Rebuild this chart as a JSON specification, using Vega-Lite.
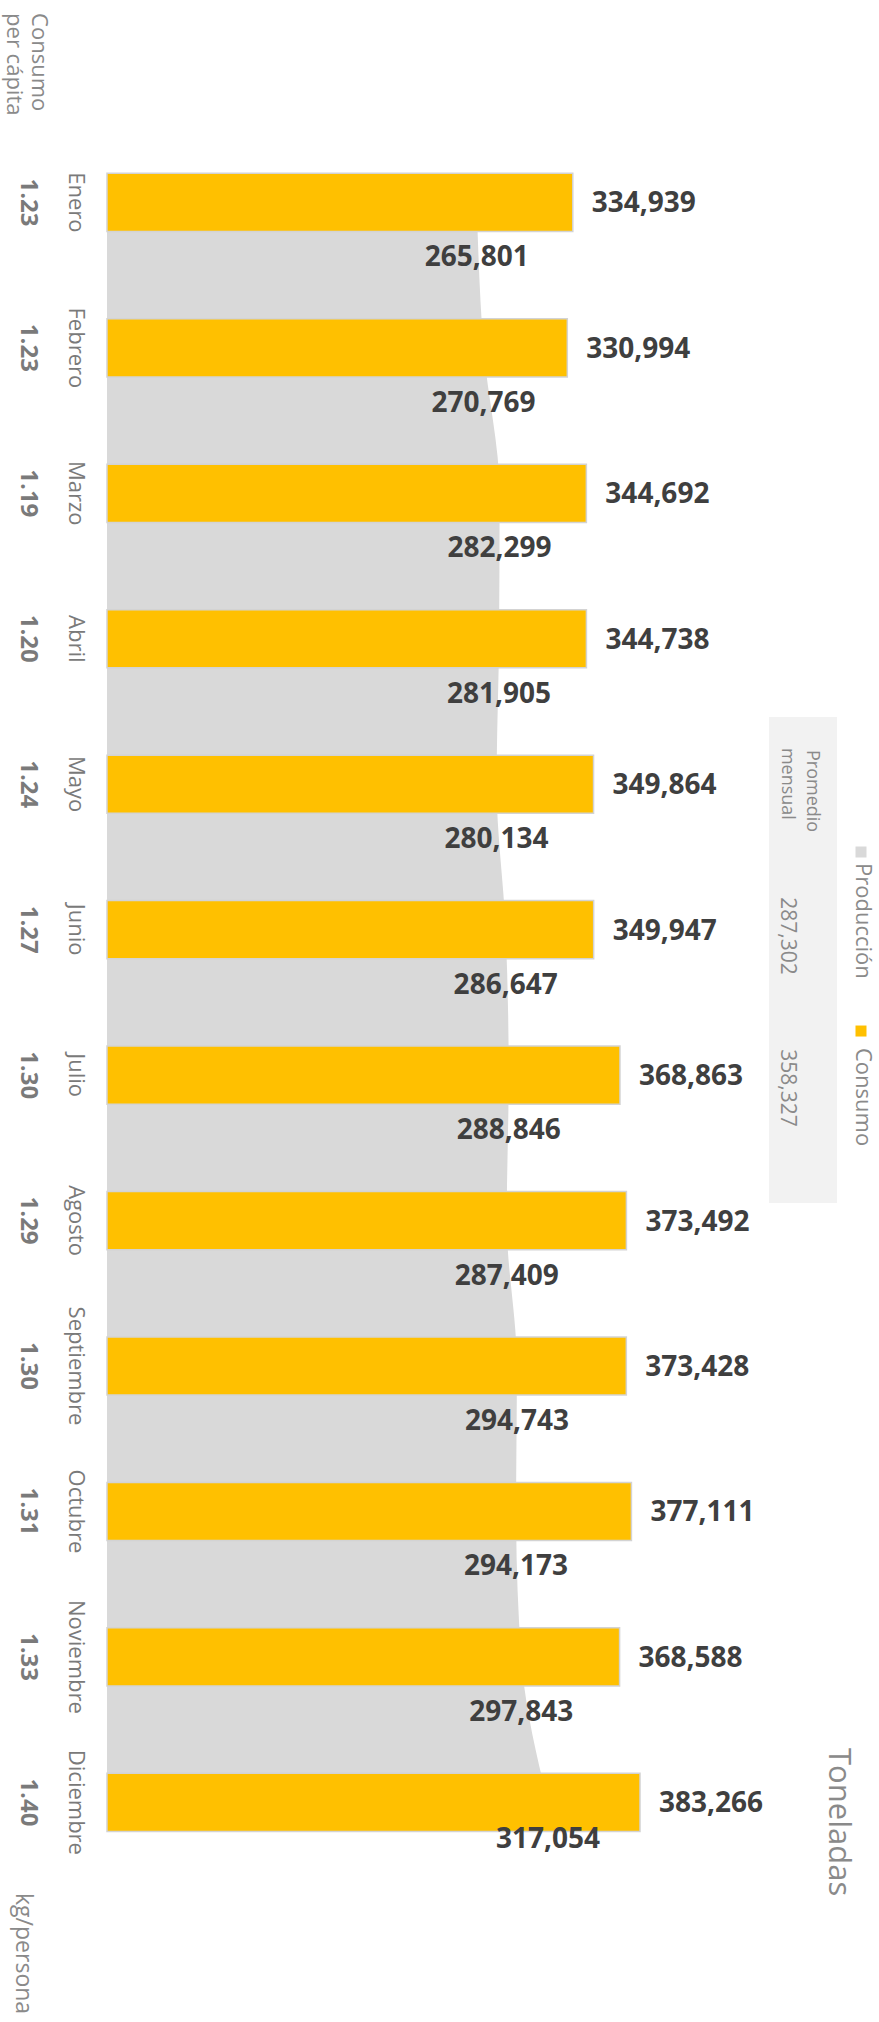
{
  "$schema": "https://vega.github.io/schema/vega-lite/v6.json",
  "width": 879,
  "height": 2022,
  "autosize": {"type": "none"},
  "padding": 0,
  "background": "#ffffff",
  "config": {"view": {"stroke": null}, "text": {"font": "Open Sans"}},
  "datasets": {
    "meses": [
      {"mes": "Enero", "consumo": 334939, "produccion": 265801, "per_capita": 1.23},
      {"mes": "Febrero", "consumo": 330994, "produccion": 270769, "per_capita": 1.23},
      {"mes": "Marzo", "consumo": 344692, "produccion": 282299, "per_capita": 1.19},
      {"mes": "Abril", "consumo": 344738, "produccion": 281905, "per_capita": 1.20},
      {"mes": "Mayo", "consumo": 349864, "produccion": 280134, "per_capita": 1.24},
      {"mes": "Junio", "consumo": 349947, "produccion": 286647, "per_capita": 1.27},
      {"mes": "Julio", "consumo": 368863, "produccion": 288846, "per_capita": 1.30},
      {"mes": "Agosto", "consumo": 373492, "produccion": 287409, "per_capita": 1.29},
      {"mes": "Septiembre", "consumo": 373428, "produccion": 294743, "per_capita": 1.30},
      {"mes": "Octubre", "consumo": 377111, "produccion": 294173, "per_capita": 1.31},
      {"mes": "Noviembre", "consumo": 368588, "produccion": 297843, "per_capita": 1.33},
      {"mes": "Diciembre", "consumo": 383266, "produccion": 317054, "per_capita": 1.40}
    ]
  },
  "layer": [
    {
      "data": {"name": "meses"},
      "mark": {"type": "area", "orient": "horizontal", "interpolate": "monotone", "color": "#d9d9d9"},
      "encoding": {
        "y": {
          "field": "mes", "type": "nominal", "axis": null,
          "sort": ["Enero","Febrero","Marzo","Abril","Mayo","Junio","Julio","Agosto","Septiembre","Octubre","Noviembre","Diciembre"],
          "scale": {"type": "band", "domain": ["Enero","Febrero","Marzo","Abril","Mayo","Junio","Julio","Agosto","Septiembre","Octubre","Noviembre","Diciembre"], "range": [100.6, 1904.2], "paddingInner": 0.6, "paddingOuter": 0.5, "align": 0.5}
        },
        "x": {"field": "produccion", "type": "quantitative", "axis": null, "scale": {"domain": [-76940, 555120], "nice": false, "zero": false}},
        "x2": {"datum": 0}
      }
    },
    {
      "data": {"name": "meses"},
      "mark": {"type": "bar", "fill": "#FFC000", "stroke": "#d3d3d3", "strokeWidth": 1.5},
      "encoding": {
        "y": {"field": "mes", "type": "nominal"},
        "x": {"field": "consumo", "type": "quantitative"},
        "x2": {"datum": 0}
      }
    },
    {
      "data": {"name": "meses"},
      "mark": {"type": "text", "align": "left", "baseline": "middle", "dx": 19, "dy": 2, "fontSize": 28, "fontWeight": "bold", "color": "#3f3f3f"},
      "encoding": {
        "y": {"field": "mes", "type": "nominal"},
        "x": {"field": "consumo", "type": "quantitative"},
        "text": {"field": "consumo", "type": "quantitative", "format": ",.0f"}
      }
    },
    {
      "data": {"name": "meses"},
      "transform": [{"filter": "datum.mes != 'Diciembre'"}],
      "mark": {"type": "text", "align": "center", "baseline": "middle", "dy": 56, "fontSize": 28, "fontWeight": "bold", "color": "#3f3f3f"},
      "encoding": {
        "y": {"field": "mes", "type": "nominal"},
        "x": {"field": "produccion", "type": "quantitative"},
        "text": {"field": "produccion", "type": "quantitative", "format": ",.0f"}
      }
    },
    {
      "data": {"name": "meses"},
      "transform": [{"filter": "datum.mes == 'Diciembre'"}],
      "mark": {"type": "text", "align": "center", "baseline": "middle", "dy": 38, "fontSize": 28, "fontWeight": "bold", "color": "#3f3f3f"},
      "encoding": {
        "y": {"field": "mes", "type": "nominal"},
        "x": {"field": "produccion", "type": "quantitative"},
        "text": {"field": "produccion", "type": "quantitative", "format": ",.0f"}
      }
    },
    {
      "data": {"name": "meses"},
      "mark": {"type": "text", "align": "center", "baseline": "middle", "angle": 90, "fontSize": 22, "color": "#7a7a7a"},
      "encoding": {
        "y": {"field": "mes", "type": "nominal"},
        "x": {"datum": -22291, "type": "quantitative"},
        "text": {"field": "mes", "type": "nominal"}
      }
    },
    {
      "data": {"name": "meses"},
      "mark": {"type": "text", "align": "center", "baseline": "middle", "angle": 90, "fontSize": 24, "fontWeight": "bold", "color": "#7a7a7a"},
      "encoding": {
        "y": {"field": "mes", "type": "nominal"},
        "x": {"datum": -56806, "type": "quantitative"},
        "text": {"field": "per_capita", "type": "quantitative", "format": ".2f"}
      }
    },
    {
      "data": {"values": [{}]},
      "mark": {"type": "text", "text": "Consumo", "align": "left", "baseline": "middle", "angle": 90, "fontSize": 22, "color": "#8a8a8a"},
      "encoding": {
        "y": {"datum": "Enero", "type": "nominal", "bandPosition": -2.754},
        "x": {"datum": -48896, "type": "quantitative"}
      }
    },
    {
      "data": {"values": [{}]},
      "mark": {"type": "text", "text": "per cápita", "align": "left", "baseline": "middle", "angle": 90, "fontSize": 22, "color": "#8a8a8a"},
      "encoding": {
        "y": {"datum": "Enero", "type": "nominal", "bandPosition": -2.754},
        "x": {"datum": -66873, "type": "quantitative"}
      }
    },
    {
      "data": {"values": [{}]},
      "mark": {"type": "text", "text": "kg/persona", "align": "left", "baseline": "middle", "angle": 90, "fontSize": 23, "color": "#8a8a8a"},
      "encoding": {
        "y": {"datum": "Diciembre", "type": "nominal", "bandPosition": 2.058},
        "x": {"datum": -60401, "type": "quantitative"}
      }
    },
    {
      "data": {"values": [{}]},
      "mark": {"type": "text", "text": "Toneladas", "align": "left", "baseline": "middle", "angle": 90, "fontSize": 31, "color": "#8a8a8a"},
      "encoding": {
        "y": {"datum": "Diciembre", "type": "nominal", "bandPosition": -0.434},
        "x": {"datum": 525634, "type": "quantitative"}
      }
    },
    {
      "data": {"values": [{}]},
      "mark": {"type": "rect", "color": "#f2f2f2"},
      "encoding": {
        "y": {"datum": "Mayo", "type": "nominal", "bandPosition": -0.655},
        "y2": {"datum": "Agosto", "bandPosition": 0.198},
        "x": {"datum": 476019, "type": "quantitative"},
        "x2": {"datum": 524915}
      }
    },
    {
      "data": {"values": [{}]},
      "mark": {"type": "text", "text": "Promedio", "align": "left", "baseline": "middle", "angle": 90, "fontSize": 18, "color": "#8a8a8a"},
      "encoding": {
        "y": {"datum": "Mayo", "type": "nominal", "bandPosition": -0.088},
        "x": {"datum": 506939, "type": "quantitative"}
      }
    },
    {
      "data": {"values": [{}]},
      "mark": {"type": "text", "text": "mensual", "align": "left", "baseline": "middle", "angle": 90, "fontSize": 18, "color": "#8a8a8a"},
      "encoding": {
        "y": {"datum": "Mayo", "type": "nominal", "bandPosition": -0.124},
        "x": {"datum": 488962, "type": "quantitative"}
      }
    },
    {
      "data": {"name": "meses"},
      "transform": [{"aggregate": [{"op": "mean", "field": "produccion", "as": "prom_produccion"}]}],
      "mark": {"type": "text", "align": "center", "baseline": "middle", "angle": 90, "fontSize": 21, "color": "#8a8a8a"},
      "encoding": {
        "y": {"datum": "Junio", "type": "nominal", "bandPosition": 0.609},
        "x": {"datum": 488962, "type": "quantitative"},
        "text": {"field": "prom_produccion", "type": "quantitative", "format": ",.0f"}
      }
    },
    {
      "data": {"name": "meses"},
      "transform": [{"aggregate": [{"op": "mean", "field": "consumo", "as": "prom_consumo"}]}],
      "mark": {"type": "text", "align": "center", "baseline": "middle", "angle": 90, "fontSize": 21, "color": "#8a8a8a"},
      "encoding": {
        "y": {"datum": "Julio", "type": "nominal", "bandPosition": 0.722},
        "x": {"datum": 488962, "type": "quantitative"},
        "text": {"field": "prom_consumo", "type": "quantitative", "format": ",.0f"}
      }
    },
    {
      "data": {"values": [{}]},
      "mark": {"type": "point", "shape": "square", "filled": true, "size": 121, "color": "#d9d9d9", "opacity": 1},
      "encoding": {
        "y": {"datum": "Mayo", "type": "nominal", "bandPosition": 1.665},
        "x": {"datum": 542173, "type": "quantitative"}
      }
    },
    {
      "data": {"values": [{}]},
      "mark": {"type": "point", "shape": "square", "filled": true, "size": 121, "color": "#FFC000", "opacity": 1},
      "encoding": {
        "y": {"datum": "Julio", "type": "nominal", "bandPosition": -0.258},
        "x": {"datum": 542173, "type": "quantitative"}
      }
    },
    {
      "data": {"values": [{}]},
      "mark": {"type": "text", "text": "Producción", "align": "left", "baseline": "middle", "angle": 90, "fontSize": 22, "color": "#8a8a8a"},
      "encoding": {
        "y": {"datum": "Mayo", "type": "nominal", "bandPosition": 1.854},
        "x": {"datum": 543611, "type": "quantitative"}
      }
    },
    {
      "data": {"values": [{}]},
      "mark": {"type": "text", "text": "Consumo", "align": "left", "baseline": "middle", "angle": 90, "fontSize": 22, "color": "#8a8a8a"},
      "encoding": {
        "y": {"datum": "Julio", "type": "nominal", "bandPosition": 0.034},
        "x": {"datum": 543611, "type": "quantitative"}
      }
    }
  ]
}
